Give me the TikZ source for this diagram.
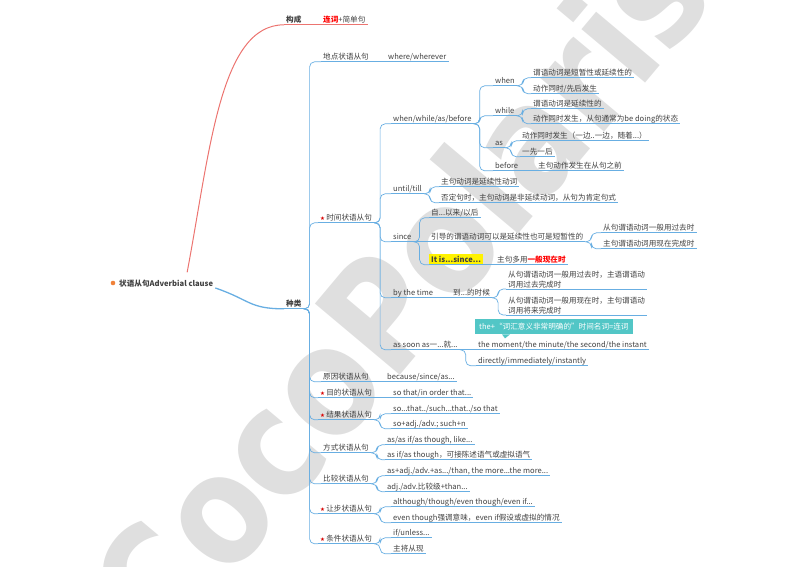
\documentclass[tikz,border=0pt]{standalone}
\usepackage{fontspec}
\setmainfont{Noto Sans CJK SC}
\newfontfamily\symfont{DejaVu Sans}
\usetikzlibrary{calc}

\definecolor{txtc}{RGB}{64,64,64}
\definecolor{linec}{RGB}{104,174,226}
\definecolor{redc}{RGB}{236,116,112}
\definecolor{tealc}{RGB}{82,198,198}
\definecolor{markc}{RGB}{223,223,223}
\definecolor{dotc}{RGB}{240,130,58}

\newcommand{\imp}{{\color{red!85!black}\symfont\fontsize{5.5}{6}\selectfont ★}\hspace{1.2pt}}

\tikzset{
  blue line/.style={draw=linec, line width=0.7pt},
  red line/.style={draw=redc, line width=0.7pt},
  link/.style={blue line, rounded corners=5pt},
  ul/.style={append after command={(\tikzlastnode.south west) edge[blue line] (\tikzlastnode.south east)}},
  rul/.style={append after command={(\tikzlastnode.south west) edge[red line] (\tikzlastnode.south east)}},
  tfont/.style={text=txtc, font=\fontsize{7.6}{10}\selectfont, inner xsep=2pt, inner ysep=1pt},
  topic/.style={tfont, ul, anchor=base west, text height=6.6pt, text depth=1.6pt},
  rtopic/.style={tfont, rul, anchor=base west, text height=6.6pt, text depth=1.6pt},
  note/.style={tfont, ul, anchor=south west, align=left},
  rootnode/.style={tfont, anchor=base west, font=\fontsize{7.6}{10}\selectfont\bfseries},
  wmark/.style={text=markc, rotate=50, xscale=0.86, font=\symfont\fontsize{152}{152}\selectfont\bfseries},
}

\begin{document}
\begin{tikzpicture}[x=1pt,y=-1pt]

      \useasboundingbox (0,0) rectangle (800,566);

      \node[wmark] (wm) at (398,290) {CocoPolaris};

      \node[rootnode] (root) at (117,286) {状语从句Adverbial clause};
      \node[circle, fill=dotc, inner sep=0pt, minimum size=4.6pt] (rootdot) at (113,283) {};

      \node[rtopic] (form) at (284,22) {\bfseries 构成};
      \node[rtopic] (formx) at (321,22) {\textcolor{red}{\bfseries 连词}+简单句};

      \node[topic] (kind) at (284,306) {\bfseries 种类};

      \node[topic] (place) at (321,59) {地点状语从句};
      \node[topic] (where) at (386,59) {where/wherever};

      \node[topic] (time) at (318,220) {\imp 时间状语从句};

      \node[topic] (wwab) at (391,121) {when/while/as/before};
      \node[topic] (when) at (493,83) {when};
      \node[topic] (when1) at (531,75) {谓语动词是短暂性或延续性的};
      \node[topic] (when2) at (531,91) {动作同时/先后发生};
      \node[topic] (while) at (493,113) {while};
      \node[topic] (while1) at (531,106) {谓语动词是延续性的};
      \node[topic] (while2) at (531,121) {动作同时发生，从句通常为be doing的状态};
      \node[topic] (as) at (493,145) {as};
      \node[topic] (as1) at (520,138) {动作同时发生（一边..一边，随着...）};
      \node[topic] (as2) at (520,154) {一先一后};
      \node[topic] (before) at (493,168) {before};
      \node[topic] (before1) at (536,168) {主句动作发生在从句之前};

      \node[topic] (until) at (391,191) {until/till};
      \node[topic] (until1) at (439,184) {主句动词是延续性动词};
      \node[topic] (until2) at (439,200) {否定句时，主句动词是非延续动词，从句为肯定句式};

      \node[topic] (since) at (391,239) {since};
      \node[topic] (since1) at (429,215) {自...以来/以后};
      \node[topic] (since2) at (429,239) {引导的谓语动词可以是延续性也可是短暂性的};
      \node[topic] (since21) at (601,230) {从句谓语动词一般用过去时};
      \node[topic] (since22) at (601,246) {主句谓语动词用现在完成时};
      \node[topic, fill=yellow] (itis) at (429,262) {\bfseries It is...since...};
      \node[topic] (itis1) at (495,262) {主句多用\textcolor{red}{\bfseries 一般现在时}};

      \node[topic] (bytime) at (391,295) {by the time};
      \node[topic] (till) at (451,295) {到...的时候};
      \node[note] (bt1) at (506,289) {从句谓语动词一般用过去时，主语谓语动\\词用过去完成时};
      \node[note] (bt2) at (506,315) {从句谓语动词一般用现在时，主句谓语动\\词用将来完成时};

      \node[topic] (assoon) at (391,347) {as soon as一...就...};
      \node[topic] (moment) at (476,347) {the moment/the minute/the second/the instant};
      \node[topic] (direct) at (476,363) {directly/immediately/instantly};
      \node[tfont, anchor=north west, fill=tealc, text=white, inner xsep=4pt, minimum height=15pt] (tip) at (475,319) {the+“词汇意义非常明确的”时间名词=连词};
      \fill[tealc] ($(tip.south west)+(27,0)$) -- ++(8,0) -- ++(-5,4) -- cycle;

      \node[topic] (cause) at (321,379) {原因状语从句};
      \node[topic] (because) at (385,379) {because/since/as...};
      \node[topic] (purpose) at (318,395) {\imp 目的状语从句};
      \node[topic] (sothat) at (391,395) {so that/in order that...};
      \node[topic] (result) at (318,417) {\imp 结果状语从句};
      \node[topic] (res1) at (391,411) {so...that../such...that../so that};
      \node[topic] (res2) at (391,426) {so+adj./adv.; such+n};
      \node[topic] (manner) at (321,450) {方式状语从句};
      \node[topic] (man1) at (385,442) {as/as if/as though, like...};
      \node[topic] (man2) at (385,457) {as if/as though，可接陈述语气或虚拟语气};
      \node[topic] (compare) at (321,481) {比较状语从句};
      \node[topic] (cmp1) at (385,473) {as+adj./adv.+as.../than, the more...the more...};
      \node[topic] (cmp2) at (385,489) {adj./adv.比较级+than...};
      \node[topic] (concess) at (318,511) {\imp 让步状语从句};
      \node[topic] (con1) at (391,504) {although/though/even though/even if...};
      \node[topic] (con2) at (391,520) {even though强调意味，even if假设或虚拟的情况};
      \node[topic] (cond) at (318,541) {\imp 条件状语从句};
      \node[topic] (cond1) at (391,535) {if/unless...};
      \node[topic] (cond2) at (391,551) {主将从现};

      \draw[red line, line width=1pt] ($(root.north)+(21,-6)$) .. controls +(23,-122) and +(-64,0) .. (form.south west);
      \draw[red line] (form.south east) -- (formx.south west);
      \draw[blue line, line width=1.3pt] (root.south east) .. controls +(35,12) and +(-35,0) .. (kind.south west);

      \foreach \p/\c in {kind/place, kind/time, kind/cause, kind/purpose, kind/result, kind/manner, kind/compare, kind/concess, kind/cond,
                         time/wwab, time/until, time/since, time/bytime, time/assoon,
                         wwab/when, wwab/while, wwab/as, wwab/before,
                         when/when1, when/when2, while/while1, while/while2, as/as1, as/as2,
                         until/until1, until/until2, since/since1, since/itis, since2/since21, since2/since22,
                         till/bt1, till/bt2, assoon/direct,
                         result/res1, result/res2, manner/man1, manner/man2, compare/cmp1, compare/cmp2,
                         concess/con1, concess/con2, cond/cond1, cond/cond2}
        \draw[link] (\p.south east) -- ++(6,0) |- (\c.south west);

      \foreach \p/\c in {place/where, before/before1, since/since2, itis/itis1, bytime/till, assoon/moment, cause/because, purpose/sothat}
        \draw[blue line] (\p.south east) -- (\c.south west);

    \end{tikzpicture}
\end{document}
